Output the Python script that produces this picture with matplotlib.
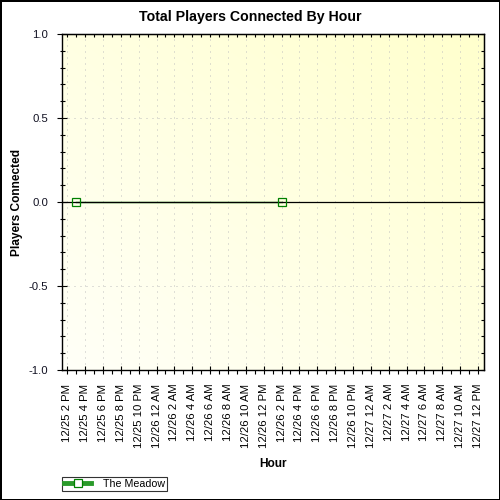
import numpy as np
import pandas as pd
import matplotlib
matplotlib.use('Agg')
import matplotlib.pyplot as plt
import matplotlib.dates as mdates
from matplotlib.lines import Line2D
from matplotlib.ticker import MultipleLocator, FuncFormatter

plt.rcParams['font.family'] = ['Liberation Sans', 'DejaVu Sans']

# Data
times = pd.to_datetime(['2008-12-25 14:56', '2008-12-26 14:00'])
players = [0, 0]
series_name = 'The Meadow'
x_start = pd.Timestamp('2008-12-25 13:25')
x_end = pd.Timestamp('2008-12-27 12:40')
y_min, y_max = -1.0, 1.0


def hour_label(x, pos=None):
    d = mdates.num2date(x)
    h = d.hour % 12
    if h == 0:
        h = 12
    return '{}/{} {} {}'.format(d.month, d.day, h, 'AM' if d.hour < 12 else 'PM')


fig = plt.figure(figsize=(5, 5), dpi=100)
fig.patch.set_facecolor('white')
fig.patch.set_edgecolor('black')
fig.patch.set_linewidth(2)

ax = fig.add_axes([62 / 500, 130 / 500, 422 / 500, 336 / 500])

# Yellow gradient background
gx, gy = np.meshgrid(np.linspace(0, 1, 200), np.linspace(0, 1, 200))
t = (gx + gy) / 2
lo = np.array([255, 255, 248]) / 255
hi = np.array([255, 255, 205]) / 255
img = lo[None, None, :] * (1 - t[..., None]) + hi[None, None, :] * t[..., None]
ax.imshow(img, extent=(0, 1, 0, 1), origin='lower', transform=ax.transAxes,
          aspect='auto', zorder=0)

ax.set_xlim(x_start, x_end)
ax.set_ylim(y_min, y_max)

# grid
ax.xaxis.set_major_locator(mdates.HourLocator(byhour=range(0, 24, 2)))
ax.xaxis.set_minor_locator(mdates.HourLocator())
ax.xaxis.set_major_formatter(FuncFormatter(hour_label))
ax.yaxis.set_major_locator(MultipleLocator(0.5))
ax.yaxis.set_minor_locator(MultipleLocator(0.1))
ax.yaxis.set_major_formatter(FuncFormatter(lambda v, p: '{:.1f}'.format(v)))
ax.grid(True, which='major', color='#c0c0c0', linestyle=(0, (1, 5)), linewidth=0.72, zorder=1)
ax.set_axisbelow(True)

ax.plot(times, players, color='green', linewidth=1, zorder=2)
ax.axhline(0, color='black', linewidth=0.9, zorder=3)
ax.plot(times, players, linestyle='none', marker='s', markersize=5.5,
        markerfacecolor='none', markeredgecolor='green', markeredgewidth=0.9, zorder=4)

for s in ax.spines.values():
    s.set_linewidth(1.0)

ax.tick_params(axis='x', which='major', direction='inout', length=5.8, width=0.8,
               labelsize=8.2, rotation=90, pad=7)
ax.tick_params(axis='x', which='minor', direction='out', length=3.2, width=0.8)
ax.tick_params(axis='y', which='major', direction='inout', length=6.5, width=0.8,
               labelsize=8.2, pad=6.5, labelcolor='#111122')
ax.tick_params(axis='y', which='minor', direction='inout', length=3.6, width=0.8)
for lab in ax.get_xticklabels():
    lab.set_verticalalignment('top')

# top and right inner ticks
top = ax.secondary_xaxis('top')
top.xaxis.set_major_locator(mdates.HourLocator())
top.tick_params(direction='in', length=2.5, width=0.8, labeltop=False)
right = ax.secondary_yaxis('right')
right.yaxis.set_major_locator(MultipleLocator(0.1))
right.tick_params(direction='in', length=2.5, width=0.8, labelright=False)

fig.text(0.5, 1 - 17 / 500, 'Total Players Connected By Hour', ha='center', va='center',
         fontsize=10.2, fontweight='bold')
fig.text(17 / 500, 1 - 202 / 500, 'Players Connected', ha='center', va='center',
         rotation=90, fontsize=8.6, fontweight='bold')
fig.text(273 / 500, 1 - 464 / 500, 'Hour', ha='center', va='center',
         fontsize=8.6, fontweight='bold')

handle = Line2D([], [], color='#2a9a2a', linewidth=3.5, marker='s', markersize=5.5,
                markerfacecolor='white', markeredgecolor='green', markeredgewidth=0.9)
leg = fig.legend([handle], [series_name], loc='lower left',
                 bbox_to_anchor=(62 / 500, 9 / 500), fontsize=7.7, frameon=True,
                 fancybox=False, edgecolor='black', borderpad=0.2, handlelength=2.5,
                 handletextpad=1.1, borderaxespad=0)
leg.get_frame().set_linewidth(0.8)

fig.savefig('out.png', dpi=100)
